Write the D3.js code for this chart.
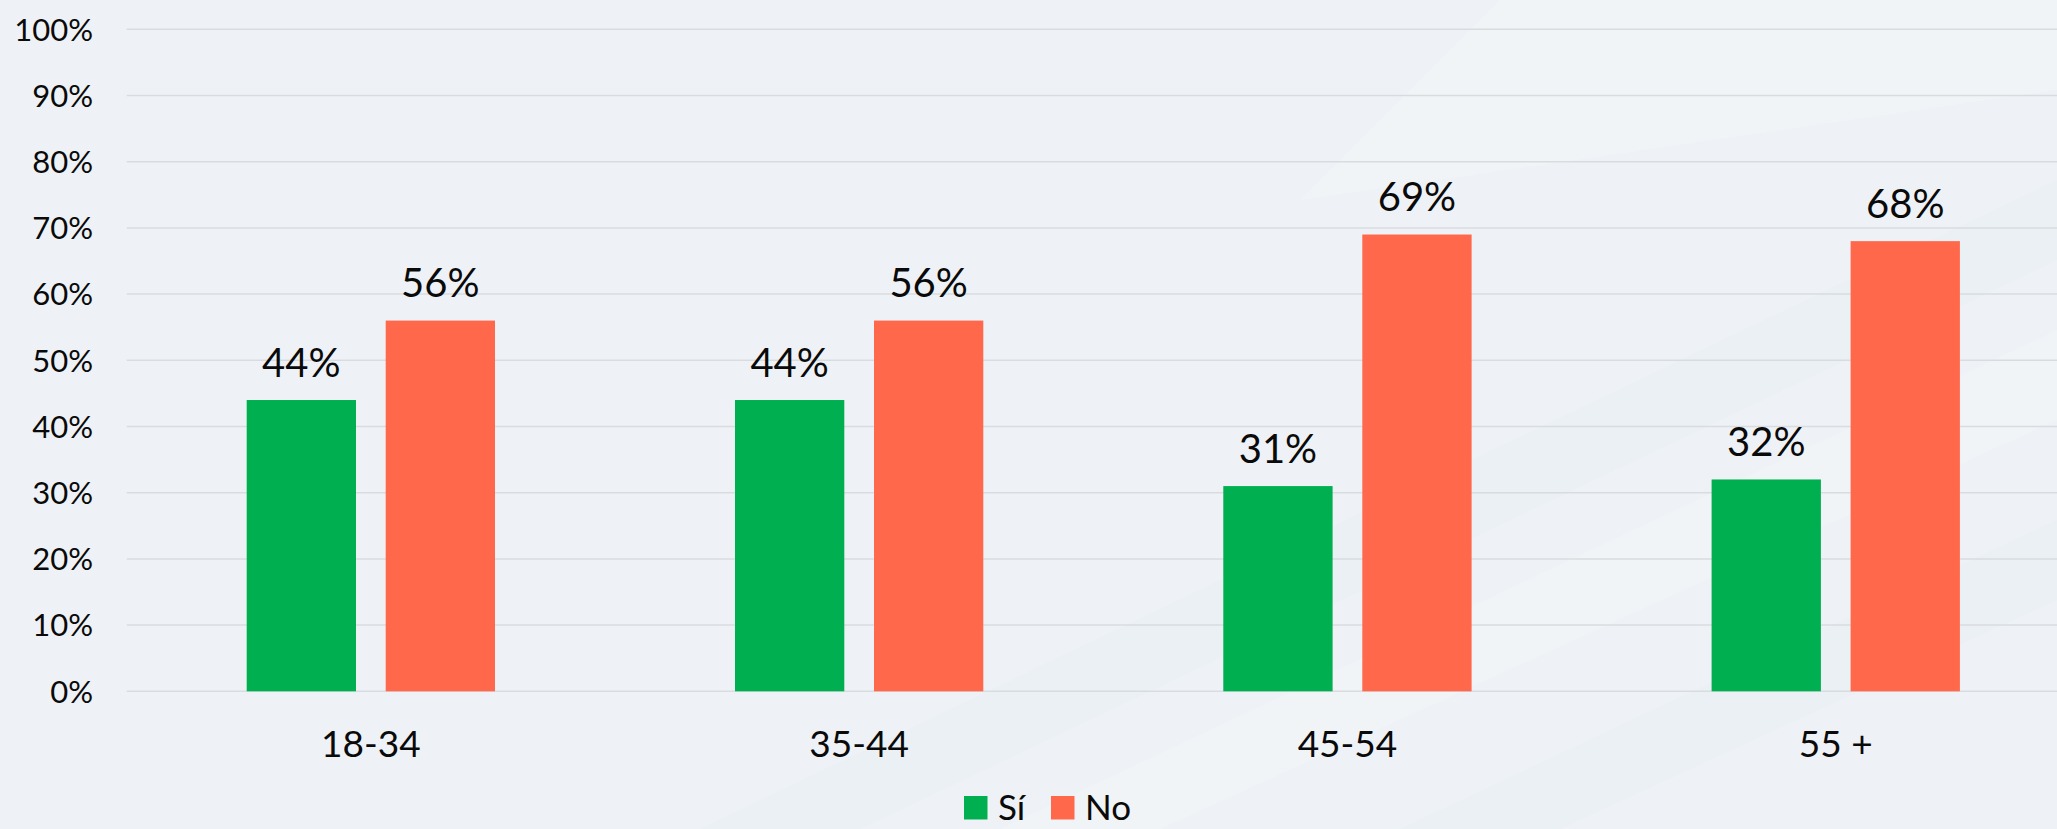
<!DOCTYPE html>
<html><head><meta charset="utf-8">
<script src="https://cdn.jsdelivr.net/npm/d3@7"></script>
<style>
html,body{margin:0;padding:0;background:#EEF2F6;overflow:hidden;}
text{font-family:"Lato","Noto Sans",sans-serif;fill:#0a0a0a;font-weight:400;}
</style></head>
<body>
<svg id="c" width="2057" height="829"></svg>
<script>
const categories = ["18-34", "35-44", "45-54", "55 +"];
const seriesNames = ["Sí", "No"];
const siValues = [44, 44, 31, 32];
const noValues = [56, 56, 69, 68];
const seriesColors = ["#00B050", "#FF684A"];
const yTicks = [0,10,20,30,40,50,60,70,80,90,100];

const W = 2057, H = 829;
const svg = d3.select("#c");

// background with subtle diagonal bands
const bg = svg.append("g");
bg.append("rect").attr("width", W).attr("height", H).attr("fill", "#EEF2F6");
const bands = [
  [[700,829],[2057,180],[2057,260],[860,829]],
  [[1000,829],[2057,330],[2057,420],[1160,829]],
  [[1400,829],[2057,520],[2057,600],[1560,829]],
  [[1500,0],[2057,0],[2057,90],[1300,200]]
];
bg.selectAll("polygon.b").data(bands).join("polygon")
  .attr("points", d => d.map(p => p.join(",")).join(" "))
  .attr("fill", (d,i) => i % 2 ? "#F2F5F8" : "#EAEEF3")
  .attr("opacity", 0.6);

const left = 126.7, bandW = 488.3;
const x0 = d3.scaleBand().domain(categories).range([left, left + bandW * categories.length]).paddingInner(0).paddingOuter(0);
const barW = 109.3, gap = 29.7;
const x1 = d3.scaleOrdinal().domain(seriesNames).range([-(barW + gap/2), gap/2]);
const y = d3.scaleLinear().domain([0, 100]).range([691.3, 29.3]);

// gridlines
svg.append("g").selectAll("line").data(yTicks).join("line")
  .attr("x1", left).attr("x2", W)
  .attr("y1", d => y(d)).attr("y2", d => y(d))
  .attr("stroke", "#D9DCDF").attr("stroke-width", 1.5);

// y axis labels
const yAxis = d3.axisLeft(y).tickValues(yTicks).tickFormat(d => d + "%").tickSize(0).tickPadding(0);
const ya = svg.append("g").attr("transform", `translate(93,0)`).call(yAxis);
ya.select(".domain").remove();
ya.selectAll("text").attr("font-size", 31).attr("fill", "#0a0a0a").attr("dy", "0.35em")
  .style("font-family", '"Lato","Noto Sans",sans-serif').style("font-weight", 400);

// x axis labels
const xa = svg.append("g").attr("transform", `translate(0,691.3)`).call(d3.axisBottom(x0).tickSize(0).tickPadding(0));
xa.select(".domain").remove();
xa.selectAll("text").attr("font-size", 37).attr("fill", "#0a0a0a").attr("y", 65.5).attr("dy", 0)
  .style("font-family", '"Lato","Noto Sans",sans-serif').style("font-weight", 400);

const data = categories.map((c, i) => ({cat: c, vals: [siValues[i], noValues[i]]}));
const groups = svg.append("g").selectAll("g").data(data).join("g")
  .attr("transform", d => `translate(${x0(d.cat) + x0.bandwidth()/2},0)`);

groups.selectAll("rect").data(d => d.vals.map((v, j) => ({s: seriesNames[j], v, j}))).join("rect")
  .attr("x", d => x1(d.s)).attr("width", barW)
  .attr("y", d => y(d.v)).attr("height", d => y(0) - y(d.v))
  .attr("fill", d => seriesColors[d.j]);

groups.selectAll("text.lbl").data(d => d.vals.map((v, j) => ({s: seriesNames[j], v, j}))).join("text")
  .attr("class", "lbl")
  .attr("x", d => x1(d.s) + barW/2).attr("y", d => y(d.v) - 23.5)
  .attr("text-anchor", "middle").attr("font-size", 40)
  .text(d => d.v + "%");

// legend
const legend = svg.append("g");
const legX = [964, 1051];
seriesNames.forEach((n, i) => {
  legend.append("rect").attr("x", legX[i]).attr("y", 796).attr("width", 23.5).attr("height", 23.5).attr("fill", seriesColors[i]);
  legend.append("text").attr("x", legX[i] + 34).attr("y", 820).attr("font-size", 35).text(n);
});
</script>
</body></html>
